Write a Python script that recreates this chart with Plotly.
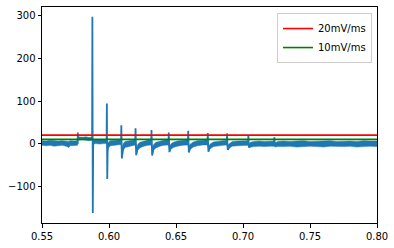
import plotly.graph_objects as go

# ---- data ----
# spike / centre signal (time in s, value in mV/ms)
t_sig = [0.550, 0.5766, 0.5767, 0.5769, 0.5874, 0.5876, 0.5879, 0.5882, 0.5982, 0.5984,
         0.5987, 0.5990, 0.5996, 0.6090, 0.6092, 0.6096, 0.6106, 0.6120, 0.6196, 0.6198,
         0.6203, 0.6214, 0.6230, 0.6315, 0.6317, 0.6322, 0.6333, 0.6350, 0.6444, 0.6446,
         0.6451, 0.6462, 0.6480, 0.6589, 0.6591, 0.6596, 0.6607, 0.6630, 0.6735, 0.6737,
         0.6742, 0.6755, 0.6780, 0.6879, 0.6881, 0.6886, 0.6899, 0.6920, 0.7038, 0.7040,
         0.7044, 0.7056, 0.7232, 0.7234, 0.7238, 0.7245, 0.800]
v_sig = [1, 1, 26, 12, 12, 298, -163, 4, 4, 94,
         -83, -10, -3, 4, 43, -35, -8, -2, 3, 36,
         -27, -9, -4, 3, 32, -28, -9, -4, 3, 26,
         -20, -7, -3, 3, 30, -21, -7, -2, 3, 25,
         -19, -6, -2, 2, 24, -15, -5, -1, 1, 20,
         -9, -3, 0, 15, -5, 0, 0]

# noise band envelope (lower / upper edge)
t_band = [0.550, 0.553, 0.556, 0.559, 0.562, 0.565, 0.568, 0.570, 0.571, 0.574, 0.5766,
          0.5768, 0.580, 0.583, 0.585, 0.5874,
          0.5882, 0.590, 0.593, 0.596, 0.5982,
          0.5990, 0.5996, 0.601, 0.604, 0.607, 0.6090,
          0.6098, 0.6106, 0.612, 0.615, 0.618, 0.6196,
          0.6206, 0.6214, 0.623, 0.626, 0.629, 0.6315,
          0.6325, 0.6333, 0.635, 0.638, 0.641, 0.6444,
          0.6454, 0.6462, 0.648, 0.651, 0.655, 0.6589,
          0.6599, 0.6607, 0.663, 0.666, 0.670, 0.6735,
          0.6745, 0.6755, 0.678, 0.681, 0.685, 0.6879,
          0.6889, 0.6899, 0.692, 0.696, 0.700, 0.7038,
          0.7046, 0.7056, 0.708, 0.712, 0.716, 0.720, 0.7232,
          0.7240, 0.726, 0.730, 0.735, 0.740, 0.745, 0.750, 0.755, 0.760,
          0.765, 0.770, 0.775, 0.780, 0.785, 0.790, 0.795, 0.800]
band_lo = [-4, -5, -4, -6, -5, -4, -6, -9, -5, -5, -4,
           8, 9, 8, 7, 8,
           -2, 0, -1, 0, 0,
           -20, -10, -5, -4, -3, -2,
           -30, -16, -9, -6, -4, -3,
           -24, -16, -10, -6, -4, -3,
           -25, -15, -10, -6, -4, -3,
           -18, -13, -9, -6, -4, -3,
           -19, -13, -8, -5, -3, -3,
           -17, -12, -7, -5, -4, -3,
           -15, -10, -6, -5, -4, -4,
           -9, -8, -7, -6, -7, -6, -6,
           -8, -7, -7, -6, -8, -7, -6, -7, -8,
           -6, -7, -7, -6, -8, -7, -6, -7]
band_hi = [7, 6, 8, 7, 6, 7, 6, 5, 7, 6, 7,
           16, 15, 16, 14, 15,
           9, 10, 9, 10, 9,
           -2, 4, 7, 8, 8, 9,
           -12, 0, 5, 7, 8, 9,
           -10, -2, 3, 6, 8, 10,
           -10, -2, 3, 6, 8, 10,
           -6, -1, 3, 6, 8, 9,
           -7, -1, 4, 7, 8, 9,
           -6, -1, 4, 6, 7, 8,
           -4, 0, 5, 6, 7, 7,
           -1, 3, 5, 6, 5, 6, 6,
           2, 5, 6, 5, 6, 7, 5, 6, 6,
           7, 5, 6, 6, 5, 7, 6, 6]

x_range = [0.55, 0.80]
y_range = [-186.5, 321]
x_ticks = [0.55, 0.60, 0.65, 0.70, 0.75, 0.80]
x_labels = ["0.55", "0.60", "0.65", "0.70", "0.75", "0.80"]
y_ticks = [-100, 0, 100, 200, 300]
thresholds = [("20mV/ms", 20, "#ff0000"), ("10mV/ms", 10, "#008000")]

BLUE = "#1f77b4"
fig = go.Figure()
fig.add_trace(go.Scatter(x=t_band, y=band_lo, mode="lines", line=dict(color=BLUE, width=0.5),
                         showlegend=False, hoverinfo="skip"))
fig.add_trace(go.Scatter(x=t_band, y=band_hi, mode="lines", line=dict(color=BLUE, width=0.5),
                         fill="tonexty", fillcolor=BLUE, showlegend=False, hoverinfo="skip"))
fig.add_trace(go.Scatter(x=t_sig, y=v_sig, mode="lines", line=dict(color=BLUE, width=1.8),
                         showlegend=False))
for name, val, col in thresholds:
    fig.add_trace(go.Scatter(x=x_range, y=[val, val], mode="lines", name=name,
                             line=dict(color=col, width=1.6)))

axis_common = dict(showline=True, mirror=True, linecolor="black", linewidth=1,
                   ticks="outside", ticklen=3.5, tickcolor="black", showgrid=False,
                   zeroline=False, tickfont=dict(family="DejaVu Sans", size=10, color="#000"))
fig.update_xaxes(range=x_range, tickvals=x_ticks, ticktext=x_labels, **axis_common)
fig.update_yaxes(range=y_range, tickvals=y_ticks, **axis_common)

fig.update_layout(
    width=394, height=248,
    margin=dict(l=42, r=17, t=6, b=24),
    plot_bgcolor="white", paper_bgcolor="white",
    font=dict(family="DejaVu Sans", size=10, color="#000"),
    legend=dict(x=0.985, y=0.972, xanchor="right", yanchor="top", traceorder="normal",
                bgcolor="rgba(255,255,255,0.8)", bordercolor="#cccccc", borderwidth=1,
                font=dict(size=10), tracegroupgap=0, itemwidth=30),
)
fig.write_html("out.html")
